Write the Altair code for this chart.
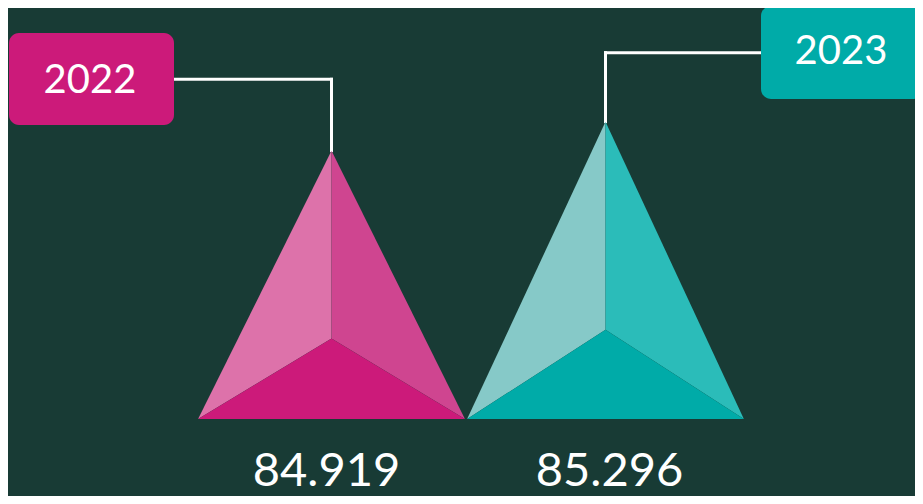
import altair as alt
import pandas as pd

# ---- data ----
years = ["2022", "2023"]
values = [84.919, 85.296]
value_labels = ["84.919", "85.296"]

# ---- style / layout constants ----
BG = "#183B35"
FACE_COLORS = [
    {"left": "#DD72AA", "right": "#CF4590", "bottom": "#CC1A7A"},
    {"left": "#86C9C8", "right": "#2BBCB9", "bottom": "#00ABA8"},
]
BOX_COLORS = ["#CC1A7A", "#00ABA8"]
FONT = "Lato"

W, H = 907, 488
X_DOMAIN = [-1.1807, 2.1296]
Y_DOMAIN = [80.43, 86.774]
BASE = 81.431          # value at the pyramids' base line
HALF_W = [0.487, 0.505]
INNER = 0.30           # height of the inner vertex, share of pyramid height
LABEL_DX = [-5, 4]

# callout boxes (pixel layout): x0, x1, y0, y1, text x, text y, elbow y, line end x
CALLOUTS = [
    dict(x0=1, x1=166, y0=25, y1=117, tx=82, ty=73, ey=71.3, lx=166),
    dict(x0=753, x1=915, y0=-2, y1=91, tx=833, ty=44, ey=44.7, lx=753),
]

XS = alt.Scale(domain=X_DOMAIN, nice=False, zero=False)
YS = alt.Scale(domain=Y_DOMAIN, nice=False, zero=False)

# ---- pyramid faces (built from the values) ----
rows = []
keys, colors = [], []
for i, (yr, v) in enumerate(zip(years, values)):
    w = HALF_W[i]
    inner = BASE + INNER * (v - BASE)
    k = f"{yr}-left"
    rows += [dict(key=k, x=i - w, y=BASE, y2=BASE), dict(key=k, x=i, y=v, y2=inner)]
    keys.append(k); colors.append(FACE_COLORS[i]["left"])
    k = f"{yr}-right"
    rows += [dict(key=k, x=i, y=v, y2=inner), dict(key=k, x=i + w, y=BASE, y2=BASE)]
    keys.append(k); colors.append(FACE_COLORS[i]["right"])
    k = f"{yr}-bottom"
    rows += [dict(key=k, x=i - w, y=BASE, y2=BASE), dict(key=k, x=i, y=inner, y2=BASE),
             dict(key=k, x=i + w, y=BASE, y2=BASE)]
    keys.append(k); colors.append(FACE_COLORS[i]["bottom"])
faces = pd.DataFrame(rows)

points = pd.DataFrame({"i": list(range(len(values))), "v": values,
                       "year": years, "label": value_labels, "base": [BASE] * len(values)})

layers = []

# connectors, boxes and year labels
for i, c in enumerate(CALLOUTS):
    one = points.iloc[[i]]
    layers.append(
        alt.Chart(one).mark_rule(color="white", strokeWidth=3, strokeCap="square").encode(
            x=alt.X("i:Q", scale=XS, axis=None),
            y=alt.Y("v:Q", scale=YS, axis=None),
            y2=alt.value(c["ey"]),
        )
    )
    layers.append(
        alt.Chart(one).mark_rule(color="white", strokeWidth=3, strokeCap="square").encode(
            x=alt.X("i:Q", scale=XS, axis=None),
            x2=alt.value(c["lx"]),
            y=alt.value(c["ey"]),
        )
    )
    layers.append(
        alt.Chart(one).mark_rect(color=BOX_COLORS[i], cornerRadius=10).encode(
            x=alt.value(c["x0"]), x2=alt.value(c["x1"]),
            y=alt.value(c["y0"]), y2=alt.value(c["y1"]),
        )
    )
    layers.append(
        alt.Chart(one).mark_text(color="white", font=FONT, fontSize=40, align="center",
                                 baseline="middle").encode(
            x=alt.value(c["tx"]), y=alt.value(c["ty"]), text="year:N",
        )
    )

# pyramids
layers.append(
    alt.Chart(faces).mark_area(orient="vertical", opacity=1).encode(
        x=alt.X("x:Q", scale=XS, axis=None),
        y=alt.Y("y:Q", scale=YS, axis=None, stack=None),
        y2="y2:Q",
        color=alt.Color("key:N", scale=alt.Scale(domain=keys, range=colors), legend=None),
        detail="key:N",
    )
)

# value labels
for i in range(len(values)):
    layers.append(
        alt.Chart(points.iloc[[i]]).mark_text(color="white", font=FONT, fontSize=47,
                                              align="center", baseline="middle",
                                              dy=53, dx=LABEL_DX[i]).encode(
            x=alt.X("i:Q", scale=XS, axis=None),
            y=alt.Y("base:Q", scale=YS, axis=None),
            text="label:N",
        )
    )

chart = alt.layer(*layers).properties(
    width=W, height=H, background=BG, padding=0,
    autosize=alt.AutoSizeParams(type="none"),
).configure_view(stroke=None)

chart.save("out.html", embed_options={"renderer": "svg", "actions": False})
